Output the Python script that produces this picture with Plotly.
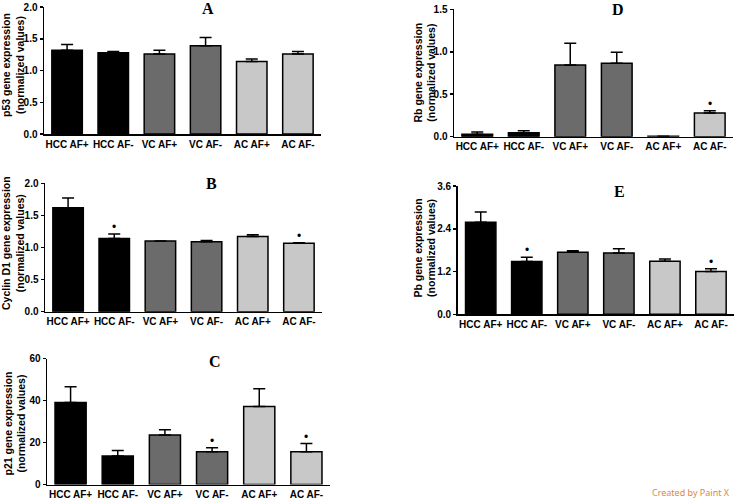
import plotly.graph_objects as go

categories = ["HCC AF+", "HCC AF-", "VC AF+", "VC AF-", "AC AF+", "AC AF-"]
bar_colors = ["#000000", "#000000", "#6b6b6b", "#6b6b6b", "#c8c8c8", "#c8c8c8"]

p53_mean = [1.32, 1.28, 1.26, 1.39, 1.14, 1.26]
p53_err = [0.09, 0.02, 0.06, 0.13, 0.04, 0.04]
p53_sig = [False, False, False, False, False, False]

cyclin_mean = [1.62, 1.14, 1.10, 1.09, 1.17, 1.065]
cyclin_err = [0.15, 0.07, 0.0, 0.02, 0.03, 0.01]
cyclin_sig = [False, True, False, False, False, True]

p21_mean = [39.1, 13.6, 23.6, 15.6, 37.2, 15.6]
p21_err = [7.5, 2.6, 2.5, 1.9, 8.4, 3.9]
p21_sig = [False, False, False, True, False, True]

rb_mean = [0.03, 0.047, 0.845, 0.864, 0.004, 0.279]
rb_err = [0.025, 0.023, 0.255, 0.13, 0.0, 0.027]
rb_sig = [False, False, False, False, False, True]

pb_mean = [2.58, 1.48, 1.74, 1.72, 1.49, 1.20]
pb_err = [0.29, 0.12, 0.04, 0.12, 0.06, 0.08]
pb_sig = [False, True, False, False, False, True]

W, H = 734, 501

def fx(px):
    return px / W

def fy(py):
    return 1 - py / H

panels = [
    dict(name="A", mean=p53_mean, err=p53_err, sig=p53_sig, ytitle="p53 gene expression<br>(normalized values)",
         xd=(44, 321), yd=(134, 7), yr=[0, 2.0], dtick=0.5, fmt=".1f", lx=0.593, ly=0.985, tx=28, ty=65),
    dict(name="B", mean=cyclin_mean, err=cyclin_err, sig=cyclin_sig, ytitle="Cyclin D1 gene expression<br>(normalized values)",
         xd=(45, 322), yd=(311.7, 183.3), yr=[0, 2.0], dtick=0.5, fmt=".1f", lx=0.60, ly=1.0, tx=28, ty=243),
    dict(name="C", mean=p21_mean, err=p21_err, sig=p21_sig, ytitle="p21 gene expression<br>(normalized values)",
         xd=(47, 330), yd=(484.5, 358.5), yr=[0, 60], dtick=20, fmt="d", lx=0.595, ly=0.975, tx=29.5, ty=423),
    dict(name="D", mean=rb_mean, err=rb_err, sig=rb_sig, ytitle="Rb gene expression<br>(normalized values)",
         xd=(454, 733), yd=(136.7, 9.3), yr=[0, 1.5], dtick=0.5, fmt=".1f", lx=0.589, ly=1.0, tx=439.5, ty=73),
    dict(name="E", mean=pb_mean, err=pb_err, sig=pb_sig, ytitle="Pb gene expression<br>(normalized values)",
         xd=(457.7, 734), yd=(314.3, 186), yr=[0, 3.6], dtick=1.2, fmt=".1f", lx=0.587, ly=0.96, tx=439.5, ty=248),
]

fig = go.Figure()
annotations = []
FONT = "Liberation Sans, Arial, sans-serif"

for i, p in enumerate(panels, start=1):
    xa = "x" if i == 1 else f"x{i}"
    ya = "y" if i == 1 else f"y{i}"
    fig.add_trace(go.Bar(
        x=categories, y=p["mean"], xaxis=xa, yaxis=ya,
        marker=dict(color=bar_colors, line=dict(color="black", width=1.5)),
        error_y=dict(type="data", array=p["err"], arrayminus=[0] * 6, symmetric=False,
                     color="black", thickness=1.5, width=6),
        showlegend=False, hoverinfo="skip",
    ))
    xkey = "xaxis" if i == 1 else f"xaxis{i}"
    ykey = "yaxis" if i == 1 else f"yaxis{i}"
    fig.layout[xkey] = dict(
        domain=[fx(p["xd"][0]), fx(p["xd"][1])], anchor=ya, range=[-0.5, 5.5],
        showline=True, linecolor="black", linewidth=1.5, ticks="", showgrid=False,
        automargin=False,
        tickfont=dict(family=FONT, size=10, color="black", weight="bold"), fixedrange=True,
    )
    fig.layout[ykey] = dict(
        domain=[fy(p["yd"][0]), fy(p["yd"][1])], anchor=xa, range=p["yr"], dtick=p["dtick"],
        tickformat=p["fmt"], showline=True, linecolor="black", linewidth=1.5,
        ticks="outside", ticklen=3, tickwidth=1.5, tickcolor="black", showgrid=False, zeroline=False,
        automargin=False, fixedrange=True,
        tickfont=dict(family=FONT, size=10, color="black", weight="bold"),
    )
    # rotated y-axis title
    annotations.append(dict(
        text="<b>" + p["ytitle"].replace("<br>", "</b><br><b>") + "</b>",
        xref="paper", yref="paper", x=fx(p["tx"]), y=fy(p["ty"]), textangle=-90,
        xanchor="right", yanchor="middle", showarrow=False, align="center",
        font=dict(family=FONT, size=10.5, color="black", weight="bold"),
    ))
    annotations.append(dict(
        text="<b>" + p["name"] + "</b>", xref=f"{xa} domain", yref=f"{ya} domain", x=p["lx"], y=p["ly"],
        xanchor="center", yanchor="middle", showarrow=False,
        font=dict(family="Liberation Serif, Times New Roman, serif", size=16, color="black", weight="bold"),
    ))
    for c, m, e, s in zip(categories, p["mean"], p["err"], p["sig"]):
        if s:
            annotations.append(dict(
                text="•", xref=xa, yref=ya, x=c, y=m + e, xanchor="center", yanchor="bottom",
                yshift=-2, showarrow=False, font=dict(family=FONT, size=12, color="black"),
            ))

annotations.append(dict(
    text="Created by Paint X", xref="paper", yref="paper", x=fx(732), y=fy(492),
    xanchor="right", yanchor="middle", showarrow=False,
    font=dict(family="Noto Sans, sans-serif", size=9, color="#e0883a"),
))

fig.update_layout(
    width=W, height=H, margin=dict(l=0, r=0, t=0, b=0, autoexpand=False),
    paper_bgcolor="white", plot_bgcolor="white", bargap=0.34,
    annotations=annotations,
)

fig.write_html("out.html", config={"displayModeBar": False, "staticPlot": True},
               post_script="document.body.style.margin='0';document.body.style.overflow='hidden';")
